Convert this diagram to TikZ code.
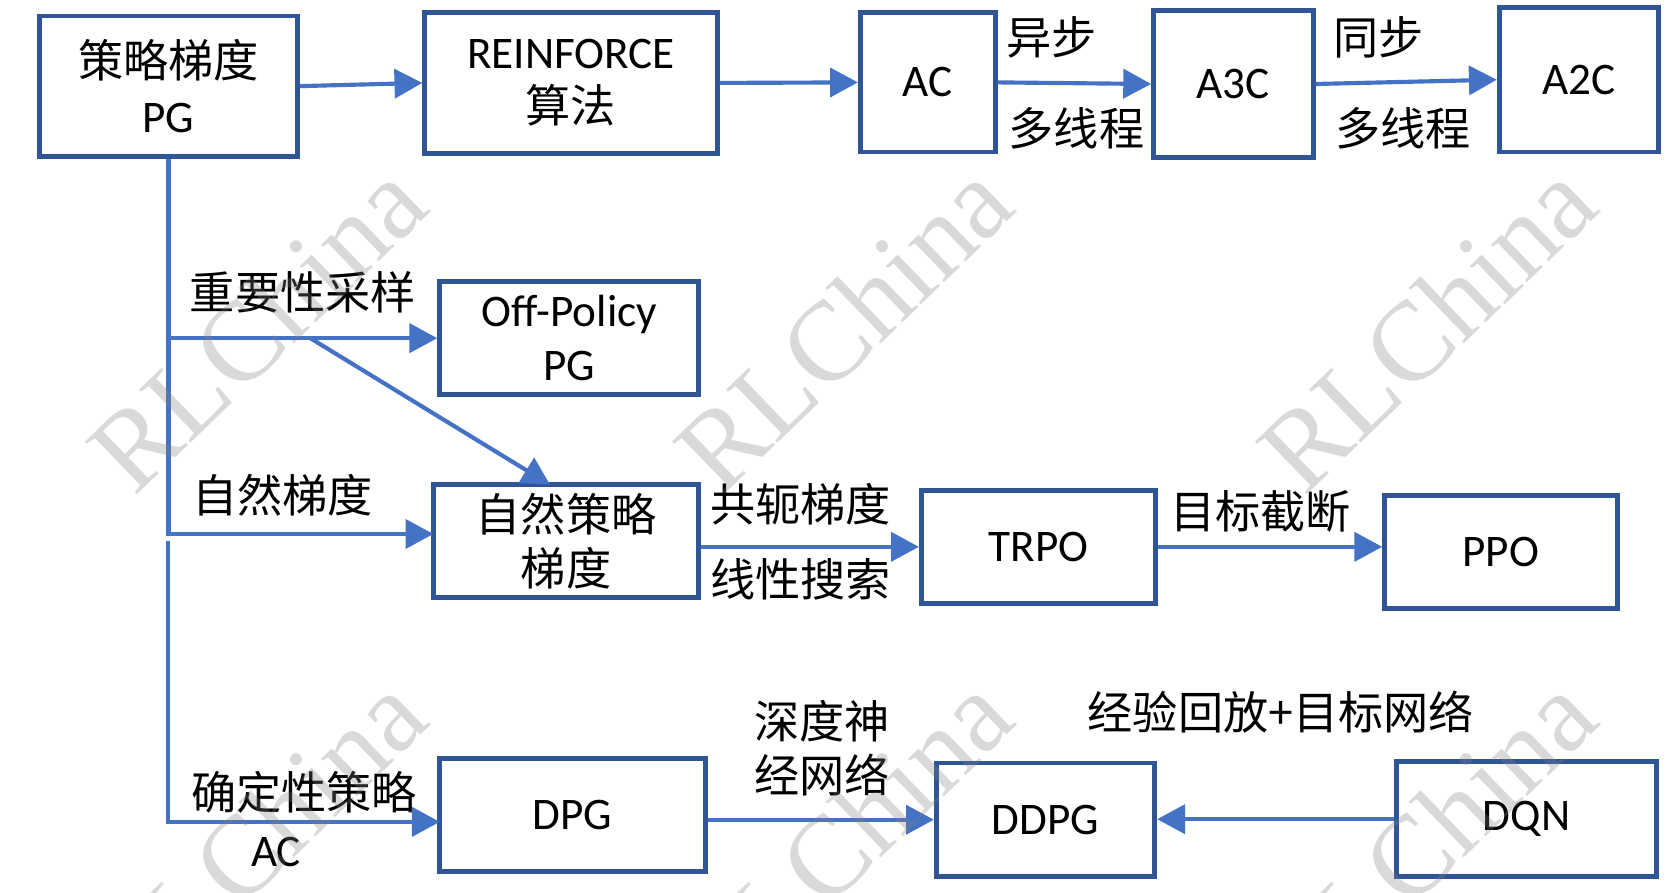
\documentclass[tikz,border=0pt]{standalone}
\usepackage{fontspec}
\setmainfont{Carlito}
\newfontfamily\cjk{Noto Sans CJK SC}
\newfontfamily\wmfont{Liberation Serif}
\usetikzlibrary{arrows.meta}
\definecolor{boxblue}{HTML}{2F5597}
\definecolor{arrowblue}{HTML}{4472C4}

\begin{document}
\begin{tikzpicture}[x=0.01cm,y=-0.01cm,
    font=\fontsize{12}{14.4}\selectfont,
    algo/.style={draw=boxblue,line width=1.3pt,align=center,inner sep=0pt},
    flow/.style={arrowblue,line width=1.1pt,-{Triangle[length=0.26cm,width=0.27cm]}},
    lbl/.style={inner sep=0pt,align=center,font=\fontsize{12}{14.4}\selectfont\cjk},
    wm/.style={gray,opacity=0.3,rotate=44,inner sep=0pt,font=\fontsize{30}{30}\selectfont\wmfont}]
    \useasboundingbox (0,0) rectangle (1568,834);

    % boxes
    \node[algo,minimum width=2.41cm,minimum height=1.31cm] (pg) at (157.5,80.5) {{\cjk 策略梯度}\\PG};
    \node[algo,minimum width=2.73cm,minimum height=1.31cm] (rf) at (533.5,77.5) {REINFORCE\\{\cjk 算法}};
    \node[algo,minimum width=1.26cm,minimum height=1.30cm] (ac) at (867,77) {AC};
    \node[algo,minimum width=1.49cm,minimum height=1.37cm] (athree) at (1152.5,78.5) {A3C};
    \node[algo,minimum width=1.49cm,minimum height=1.35cm] (atwo) at (1475.5,74.5) {A2C};
    \node[algo,minimum width=2.42cm,minimum height=1.06cm] (offpg) at (532,316) {Off-Policy\\PG};
    \node[algo,minimum width=2.48cm,minimum height=1.05cm] (npg) at (529,505.5) {{\cjk 自然策略}\\{\cjk 梯度}};
    \node[algo,minimum width=2.19cm,minimum height=1.06cm] (trpo) at (970.5,511) {TRPO};
    \node[algo,minimum width=2.17cm,minimum height=1.06cm] (ppo) at (1402.5,516) {PPO};
    \node[algo,minimum width=2.48cm,minimum height=1.05cm] (dpg) at (535,761.5) {DPG};
    \node[algo,minimum width=2.04cm,minimum height=1.06cm] (ddpg) at (977,766) {DDPG};
    \node[algo,minimum width=2.43cm,minimum height=1.07cm] (dqn) at (1426.5,765.5) {DQN};

    % top row
    \draw[flow] (pg.east) -- (rf.west);
    \draw[flow] (rf.east) -- (ac.west);
    \draw[flow] (ac.east) -- (athree.west);
    \draw[flow] (athree.east) -- (atwo.west);
    \node[lbl] (asyn) at (983,35) {异步};
    \node[lbl] (mtone) at (1006,120) {多线程};
    \node[lbl] (syn) at (1288,35) {同步};
    \node[lbl] (mttwo) at (1311,120) {多线程};

    % trunk from PG
    \coordinate (split) at (157,316);
    \coordinate (fork) at (290,316);
    \coordinate (npgin) at (405,499);
    \coordinate (npgtop) at (514,453);
    \coordinate (lowstart) at (157,506);
    \coordinate (dpgin) at (411,768);
    \draw[flow] (pg.south) |- (npgin);
    \draw[flow] (split) -- (offpg.west);
    \draw[flow] (fork) -- (npgtop);
    \draw[flow] (lowstart) |- (dpgin);
    \node[lbl] (isamp) at (283,273) {重要性采样};
    \node[lbl] (natg) at (264,463) {自然梯度};
    \node[lbl] (detp) at (284,740) {确定性策略};
    \node[inner sep=0pt] (acl) at (258,796) {AC};

    % middle row
    \draw[flow] (npg.east |- trpo.west) -- (trpo.west);
    \draw[flow] (trpo.east) -- (ppo.west |- trpo.east);
    \node[lbl] (conj) at (748,471) {共轭梯度};
    \node[lbl] (lsearch) at (748,541) {线性搜索};
    \node[lbl] (clip) at (1178,478) {目标截断};

    % bottom row
    \draw[flow] (dpg.east |- ddpg.west) -- (ddpg.west);
    \draw[flow] (dqn.west) -- (ddpg.east |- dqn.west);
    \node[lbl] (dnn) at (768,699) {深度神\\经网络};
    \node[lbl] (replay) at (1197,665) {经验回放+目标网络};

    % watermark
    \begin{scope}
        \clip (0,0) rectangle (1568,834);
        \foreach \wx in {240,788,1333}
            \foreach \wy in {305,785}
                \node[wm] (wm-\wx-\wy) at (\wx,\wy) {RLChina};
    \end{scope}
\end{tikzpicture}
\end{document}
